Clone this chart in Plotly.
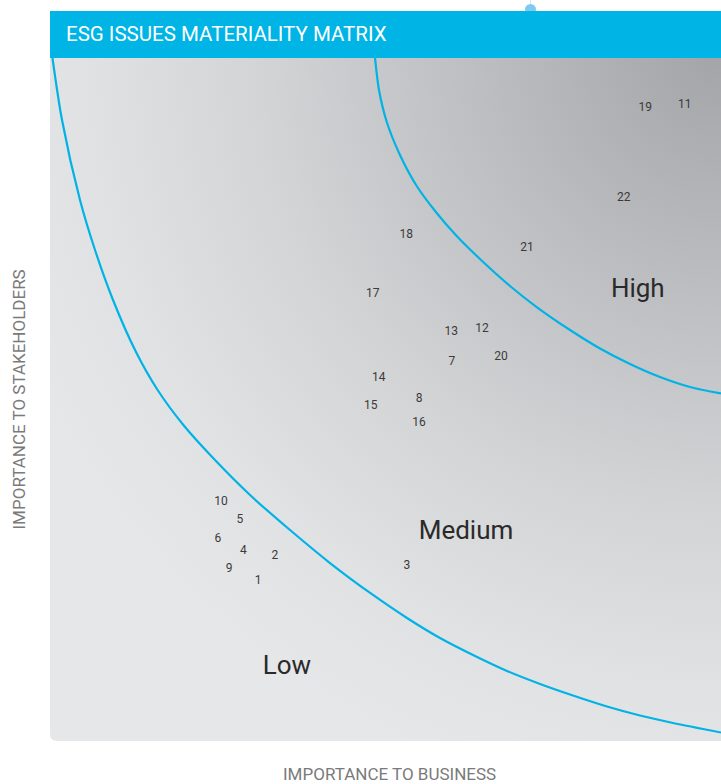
import base64
import plotly.graph_objects as go

# ---- data (0-100 scales) ----
issue_ids = ["1", "2", "3", "4", "5", "6", "7", "8", "9", "10", "11",
             "12", "13", "14", "15", "16", "17", "18", "19", "20", "21", "22"]
business = [31.0, 33.5, 53.2, 28.8, 28.3, 25.0, 59.9, 55.0, 26.7, 25.5, 94.6,
            64.4, 59.8, 49.0, 47.8, 55.0, 48.1, 53.1, 88.7, 67.2, 71.1, 85.5]
stakeholders = [23.4, 27.1, 25.6, 27.8, 32.4, 29.6, 55.5, 50.1, 25.2, 35.0, 93.1,
                60.3, 59.9, 53.1, 49.0, 46.6, 65.4, 74.1, 92.7, 56.2, 72.2, 79.5]

low_med_x = [0.37, 1.79, 4.47, 6.71, 9.39, 12.82, 16.04, 19.88, 24.59, 29.81, 35.77, 41.73,
             48.14, 53.20, 58.12, 63.04, 68.11, 73.03, 77.94, 83.01, 87.93, 92.85, 100]
low_med_y = [100, 90.92, 79.21, 71.89, 64.57, 56.95, 51.39, 46.27, 41.14, 36.02, 30.89, 26.06,
             21.38, 18.01, 15.08, 12.59, 10.25, 8.35, 6.66, 5.05, 3.73, 2.64, 1.24]

med_high_x = [48.44, 49.03, 50.18, 52.16, 54.65, 57.63, 60.61, 64.08, 68.55, 72.53, 77.50,
              81.97, 86.44, 90.91, 95.38, 100]
med_high_y = [100, 95.31, 90.67, 85.80, 81.26, 77.31, 73.94, 70.57, 66.62, 63.54, 60.18,
              57.47, 55.20, 53.29, 51.83, 50.88]

zone_names = ["High", "Medium", "Low"]
zone_x = [87.6, 62.0, 35.3]
zone_y = [66.0, 30.5, 10.7]

title_text = "ESG ISSUES MATERIALITY MATRIX"
x_title = "IMPORTANCE TO BUSINESS"
y_title = "IMPORTANCE TO STAKEHOLDERS"

# ---- layout geometry ----
W, H = 721, 784
PL, PR, PT, PB = 50, 721, 58, 741  # plot area in pixels
FONT = "Roboto, 'DejaVu Sans', sans-serif"
BLUE = "#00b3e6"


def px_x(p):
    return p / W


def px_y(p):
    return (H - p) / H


# background panel: radial gradient from top-right corner, rounded bottom-left
pw, ph = PR - PL, PB - PT
svg = (
    f'<svg xmlns="http://www.w3.org/2000/svg" width="{pw}" height="{ph}" '
    f'viewBox="0 0 {pw} {ph}" preserveAspectRatio="none"><defs>'
    f'<radialGradient id="g" gradientUnits="userSpaceOnUse" cx="{pw}" cy="-10" r="770">'
    '<stop offset="0" stop-color="#a3a4a8"/>'
    '<stop offset="0.32" stop-color="#bdbec1"/>'
    '<stop offset="0.6" stop-color="#d3d4d6"/>'
    '<stop offset="0.82" stop-color="#e0e1e3"/>'
    '<stop offset="1" stop-color="#e6e7e8"/>'
    '</radialGradient></defs>'
    f'<path d="M0,0 H{pw} V{ph} H7 Q0,{ph} 0,{ph - 7} Z" fill="url(#g)"/></svg>'
)
svg_uri = "data:image/svg+xml;base64," + base64.b64encode(svg.encode()).decode()

fig = go.Figure()

fig.add_trace(go.Scatter(x=low_med_x, y=low_med_y, mode="lines",
                         line=dict(color=BLUE, width=2.2, shape="spline", smoothing=0.8),
                         hoverinfo="skip", showlegend=False))
fig.add_trace(go.Scatter(x=med_high_x, y=med_high_y, mode="lines",
                         line=dict(color=BLUE, width=2.2, shape="spline", smoothing=0.8),
                         hoverinfo="skip", showlegend=False))
fig.add_trace(go.Scatter(x=business, y=stakeholders, mode="text", text=issue_ids,
                         textposition="middle center",
                         textfont=dict(family=FONT, size=12, color="#3a3a3a"),
                         showlegend=False))
fig.add_trace(go.Scatter(x=zone_x, y=zone_y, mode="text", text=zone_names,
                         textposition="middle center",
                         textfont=dict(family=FONT, size=26, color="#2a2a2a"),
                         hoverinfo="skip", showlegend=False))

shapes = [
    # small dot above header
    dict(type="line", xref="paper", yref="paper", x0=px_x(530.5), x1=px_x(530.5),
         y0=px_y(0), y1=px_y(6), line=dict(color="#cfe9f5", width=1), layer="below"),
    dict(type="circle", xref="paper", yref="paper", x0=px_x(525), x1=px_x(536),
         y0=px_y(15), y1=px_y(4), fillcolor="#7fcbef", line=dict(width=0), layer="below"),
    # header bar
    dict(type="rect", xref="paper", yref="paper", x0=px_x(PL), x1=1,
         y0=px_y(PT), y1=px_y(11), fillcolor="#00b4e6", line=dict(width=0)),
]

annotations = [
    dict(text=title_text, xref="paper", yref="paper", x=px_x(64), y=px_y(34),
         xanchor="left", yanchor="middle", showarrow=False,
         font=dict(family=FONT, size=20.5, color="white")),
    dict(text=x_title, xref="paper", yref="paper", x=px_x(389.5), y=px_y(774),
         xanchor="center", yanchor="middle", showarrow=False,
         font=dict(family=FONT, size=17, color="#7a7a7a")),
    dict(text=y_title, xref="paper", yref="paper", x=px_x(18.5), y=px_y(400),
         xanchor="center", yanchor="middle", showarrow=False, textangle=-90,
         font=dict(family=FONT, size=17, color="#7a7a7a")),
]

fig.update_layout(
    width=W, height=H,
    margin=dict(l=0, r=0, t=0, b=0),
    paper_bgcolor="white", plot_bgcolor="rgba(0,0,0,0)",
    xaxis=dict(domain=[px_x(PL), 1], range=[0, 100], visible=False, fixedrange=True),
    yaxis=dict(domain=[px_y(PB), px_y(PT)], range=[0, 100], visible=False, fixedrange=True),
    images=[dict(source=svg_uri, xref="x", yref="y", x=0, y=100, sizex=100, sizey=100,
                 xanchor="left", yanchor="top", sizing="stretch", layer="below")],
    shapes=shapes,
    annotations=annotations,
    showlegend=False,
)

fig.write_html("out.html")
